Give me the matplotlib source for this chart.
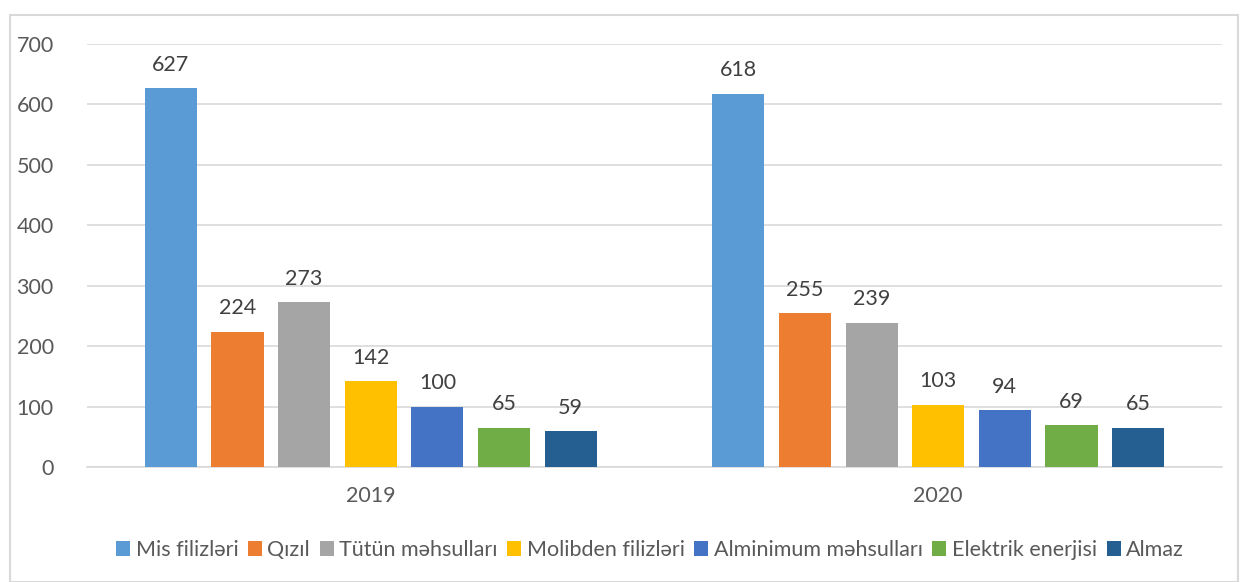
import matplotlib
matplotlib.use("Agg")
import matplotlib.pyplot as plt
from matplotlib.patches import Rectangle
import numpy as np

years = ["2019", "2020"]
series = ["Mis filizləri", "Qızıl", "Tütün məhsulları", "Molibden filizləri",
          "Alminimum məhsulları", "Elektrik enerjisi", "Almaz"]
values = {
    "Mis filizləri": [627, 618],
    "Qızıl": [224, 255],
    "Tütün məhsulları": [273, 239],
    "Molibden filizləri": [142, 103],
    "Alminimum məhsulları": [100, 94],
    "Elektrik enerjisi": [65, 69],
    "Almaz": [59, 65],
}
colors = ["#5B9BD5", "#ED7D31", "#A5A5A5", "#FFC000", "#4472C4", "#70AD47", "#255E91"]
yticks = [0, 100, 200, 300, 400, 500, 600, 700]

plt.rcParams['font.family'] = ['Lato', 'DejaVu Sans']
txt = "#595959"

W, H = 1241, 582
fig = plt.figure(figsize=(W/100, H/100), dpi=100)
fig.patches.append(Rectangle((10/W, 0), (1238-10)/W, (H-15)/H, transform=fig.transFigure,
                             fill=False, edgecolor="#D9D9D9", linewidth=1.5))
ax = fig.add_axes([87/W, 1-467/H, (1222-87)/W, (467-44)/H])

spacing = 0.1174
width = 0.0917
x = np.arange(len(years))
for i, s in enumerate(series):
    pos = x + (i - 3) * spacing
    bars = ax.bar(pos, values[s], width=width, color=colors[i], label=s, zorder=3)
    for p, v in zip(pos, values[s]):
        ax.text(p, v + 22, str(v), ha="center", va="bottom", fontsize=15.5, color="#404040")

ax.set_xlim(-0.5, 1.5)
ax.set_ylim(0, 700)
ax.set_yticks(yticks)
ax.set_xticks(x)
ax.set_xticklabels(years)
ax.grid(axis="y", color="#D9D9D9", linewidth=1.2, zorder=0)
for sp in ["top", "right", "left"]:
    ax.spines[sp].set_visible(False)
ax.spines["bottom"].set_color("#D9D9D9")
ax.spines["bottom"].set_linewidth(1.2)
ax.tick_params(axis="both", length=0, labelsize=15.5, colors=txt)
ax.tick_params(axis="y", pad=24)
ax.tick_params(axis="x", pad=14)

leg = fig.legend(loc="center", bbox_to_anchor=(650/W, 1-550/H), ncol=7, frameon=False,
                 fontsize=15.5, handlelength=0.65, handleheight=0.65, handletextpad=0.25,
                 columnspacing=0.45, labelcolor=txt)

fig.savefig("out.png", dpi=100)
